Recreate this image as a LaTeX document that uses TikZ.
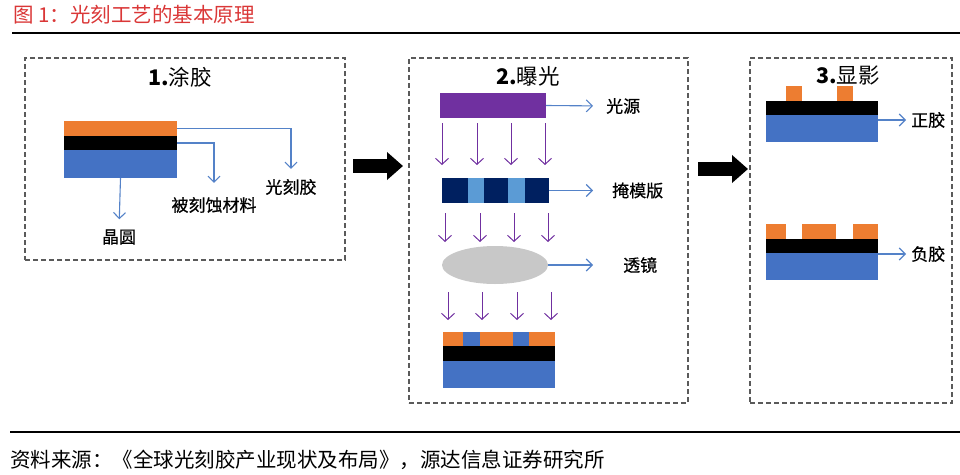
\documentclass[tikz,border=0pt]{standalone}
\usepackage{fontspec}
\setmainfont{Noto Sans CJK SC}
\newfontfamily\tagfont{Noto Sans CJK SC}[FakeBold=0.6]
\usetikzlibrary{arrows.meta,shapes.geometric}
\definecolor{resist}{RGB}{237,125,49}
\definecolor{wafer}{RGB}{68,114,196}
\definecolor{source}{RGB}{112,48,160}
\definecolor{maskdark}{RGB}{0,32,96}
\definecolor{masklight}{RGB}{91,155,213}
\definecolor{lensgray}{RGB}{200,200,200}
\definecolor{ptrblue}{RGB}{84,130,200}
\definecolor{titlered}{RGB}{218,55,55}
\definecolor{framegray}{RGB}{90,90,90}
\tikzset{
  layer/.style={rectangle, inner sep=0pt, outer sep=0pt, anchor=north west},
  stage/.style={layer, draw=framegray, line width=1.1pt, dash pattern=on 5pt off 3pt},
  pointer/.style={draw=ptrblue, line width=1.1pt, -{Straight Barb[length=6pt,width=12pt]}},
  ray/.style={draw=source, line width=1pt, -{Straight Barb[length=6pt,width=13pt]}},
  bigarrow/.style={line width=14pt, -{Triangle[length=16pt,width=27pt]}},
  tag/.style={inner sep=0pt, font=\tagfont\fontsize{17}{20}\selectfont},
  heading/.style={inner sep=0pt, font=\fontsize{21.5}{24}\selectfont},
}
\begin{document}
\begin{tikzpicture}[x=1pt, y=-1pt]
      \useasboundingbox (0,0) rectangle (960,474);

      \node[anchor=west, inner sep=0pt, text=titlered, font=\fontsize{20.5}{24}\selectfont] (title) at (13,15) {图 1：光刻工艺的基本原理};
      \coordinate (ruletopL) at (12,33);
      \coordinate (ruletopR) at (960,33);
      \draw[line width=1.5pt] (ruletopL) -- (ruletopR);

      \node[stage, minimum width=320pt, minimum height=202pt] (coat) at (25,58) {};
      \node[stage, minimum width=279pt, minimum height=345pt] (expose) at (409,58) {};
      \node[stage, minimum width=202pt, minimum height=345pt] (develop) at (750,58) {};

      \node[heading] (head1) at (180,77) {\textbf{1.}涂胶};
      \node[heading] (head2) at (528,76) {\textbf{2.}曝光};
      \node[heading] (head3) at (848,75) {\textbf{3.}显影};

      \node[layer, fill=resist, minimum width=113pt, minimum height=15pt] (resist1) at (64,121) {};
      \node[layer, fill=black, minimum width=113pt, minimum height=14pt] (film1) at (64,136) {};
      \node[layer, fill=wafer, minimum width=113pt, minimum height=28pt] (wafer1) at (64,150) {};

      \node[tag] (lbl-resist) at (291,187) {光刻胶};
      \node[tag] (lbl-film) at (214,205) {被刻蚀材料};
      \node[tag] (lbl-wafer) at (119,237) {晶圆};

      \draw[pointer, shorten >=10pt] (resist1.east) -| (lbl-resist.north);
      \draw[pointer, shorten >=14pt] (film1.east) -| (lbl-film.north);
      \draw[pointer, shorten >=10pt] (wafer1.south) -- (lbl-wafer.north);

      \coordinate (arr1s) at (353,166);
      \coordinate (arr1e) at (403,166);
      \draw[bigarrow] (arr1s) -- (arr1e);

      \node[layer, fill=source, minimum width=106pt, minimum height=25pt] (src) at (440,93) {};
      \node[tag, anchor=west] (lbl-src) at (606,106) {光源};
      \draw[pointer, shorten >=13pt] (src.east) -- (lbl-src.west);

      \foreach \x in {442,477,511,545}
        \draw[ray] (\x,123) -- (\x,165);

      \foreach \i/\xa/\xb/\col in {1/442/468/maskdark, 2/468/484/masklight, 3/484/508/maskdark, 4/508/525/masklight, 5/525/549/maskdark}
        \node[layer, fill=\col, minimum width=\xb-\xa, minimum height=25pt] (mask\i) at (\xa,178) {};
      \node[tag, anchor=west] (lbl-mask) at (612,190.5) {掩模版};
      \draw[pointer, shorten >=19pt] (mask5.east) -- (lbl-mask.west);

      \foreach \x in {445,480,514,548}
        \draw[ray] (\x,213) -- (\x,242);

      \node[ellipse, fill=lensgray, inner sep=0pt, minimum width=106pt, minimum height=38pt] (lens) at (495,265) {};
      \node[tag, anchor=west] (lbl-lens) at (623,265) {透镜};
      \draw[pointer, shorten >=30pt] (lens.east) -- (lbl-lens.west);

      \foreach \x in {448,482,517,551}
        \draw[ray] (\x,292) -- (\x,320);

      \foreach \i/\xa/\xb/\col in {1/443/463/resist, 2/463/480/wafer, 3/480/513/resist, 4/513/529/wafer, 5/529/555/resist}
        \node[layer, fill=\col, minimum width=\xb-\xa, minimum height=14pt] (top2\i) at (\xa,332) {};
      \node[layer, fill=black, minimum width=112pt, minimum height=15pt] (film2) at (443,346) {};
      \node[layer, fill=wafer, minimum width=112pt, minimum height=27pt] (wafer2) at (443,361) {};

      \coordinate (arr2s) at (698,169);
      \coordinate (arr2e) at (748,169);
      \draw[bigarrow] (arr2s) -- (arr2e);

      \foreach \i/\xa/\xb in {1/786/802, 2/837/853}
        \node[layer, fill=resist, minimum width=\xb-\xa, minimum height=15pt] (pos\i) at (\xa,86) {};
      \node[layer, fill=black, minimum width=112pt, minimum height=14pt] (film3) at (766,101) {};
      \node[layer, fill=wafer, minimum width=112pt, minimum height=27pt] (wafer3) at (766,115) {};
      \node[tag, anchor=west] (lbl-pos) at (911,120) {正胶};
      \draw[pointer, shorten >=5pt] (lbl-pos.west -| wafer3.east) -- (lbl-pos.west);

      \foreach \i/\xa/\xb in {1/766/786, 2/802/836, 3/853/878}
        \node[layer, fill=resist, minimum width=\xb-\xa, minimum height=15pt] (neg\i) at (\xa,224) {};
      \node[layer, fill=black, minimum width=112pt, minimum height=14pt] (film4) at (766,239) {};
      \node[layer, fill=wafer, minimum width=112pt, minimum height=27pt] (wafer4) at (766,253) {};
      \node[tag, anchor=west] (lbl-neg) at (911,254) {负胶};
      \draw[pointer, shorten >=5pt] (lbl-neg.west -| wafer4.east) -- (lbl-neg.west);

      \coordinate (rulebotL) at (10,432);
      \coordinate (rulebotR) at (960,432);
      \draw[line width=1.5pt] (rulebotL) -- (rulebotR);
      \node[anchor=west, inner sep=0pt, font=\fontsize{20.5}{24}\selectfont] (source) at (10,460) {资料来源：《全球光刻胶产业现状及布局》，源达信息证券研究所};

    \end{tikzpicture}
\end{document}
